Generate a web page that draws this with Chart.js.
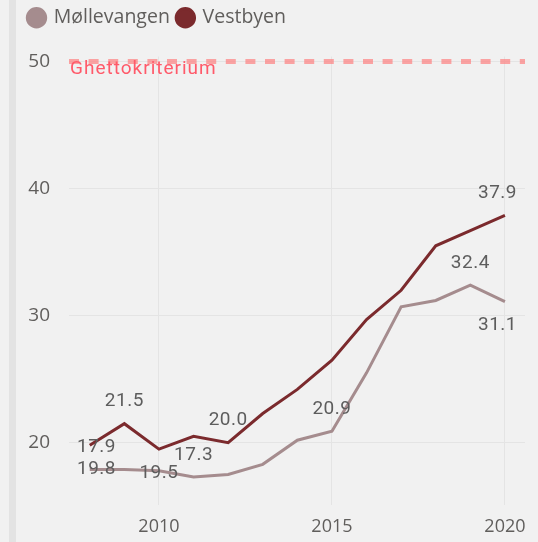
<!DOCTYPE html>
<html>
<head>
<meta charset="utf-8">
<script src="https://cdn.jsdelivr.net/npm/chart.js@4/dist/chart.umd.min.js"></script>
<style>
  html, body { margin: 0; padding: 0; background: #f1f1f1; }
  #wrap { width: 538px; height: 542px; position: relative; }
</style>
</head>
<body>
<div id="wrap"><canvas id="chart"></canvas></div>
<script>
// data
const years = [2008, 2009, 2010, 2011, 2012, 2013, 2014, 2015, 2016, 2017, 2018, 2019, 2020];
const mollevangen = [17.9, 17.9, 17.8, 17.3, 17.5, 18.3, 20.2, 20.9, 25.5, 30.7, 31.2, 32.4, 31.1];
const vestbyen    = [19.8, 21.5, 19.5, 20.5, 20.0, 22.3, 24.2, 26.5, 29.7, 32.0, 35.5, 36.7, 37.9];
// which points carry a value label, and on which side
const mollLabels = { 0: "above", 3: "above", 7: "above", 11: "above", 12: "below" };
const vestLabels = { 0: "below", 1: "above", 2: "below", 4: "above", 12: "above" };
const xTicks = [2010, 2015, 2020];
const yTicks = [20, 30, 40, 50];
const threshold = 50;
const thresholdLabel = "Ghettokriterium";

const textGrey = "#605e5c";

const bgPlugin = {
  id: "bg",
  beforeInit(chart) {
    // push the plot down below the legend
    const lg = chart.legend;
    if (lg) {
      const fit = lg.fit;
      lg.fit = function () { fit.call(this); this.height += 19; };
    }
  },
  beforeDraw(chart) {
    const c = chart.ctx;
    c.save();
    c.fillStyle = "#f1f1f1";
    c.fillRect(0, 0, chart.width, chart.height);
    c.fillStyle = "#e3e3e3";
    c.fillRect(9, 0, 7, chart.height);
    c.restore();
  }
};

const thresholdPlugin = {
  id: "threshold",
  beforeDatasetsDraw(chart) {
    const c = chart.ctx, a = chart.chartArea;
    const y = chart.scales.y.getPixelForValue(threshold);
    c.save();
    c.strokeStyle = "rgba(255,120,120,0.65)";
    c.lineWidth = 5;
    c.setLineDash([10, 9.6]);
    c.beginPath();
    c.moveTo(a.left, y);
    c.lineTo(a.right, y);
    c.stroke();
    c.setLineDash([]);
    c.fillStyle = "#ff5a6a";
    c.font = "19px Roboto";
    c.letterSpacing = "1px";
    c.textBaseline = "middle";
    c.textAlign = "left";
    c.fillText(thresholdLabel, a.left + 1, y + 8);
    c.restore();
  }
};

const valueLabels = {
  id: "valueLabels",
  afterDatasetsDraw(chart) {
    const c = chart.ctx, a = chart.chartArea;
    const sets = [mollLabels, vestLabels];
    c.save();
    c.font = "19px Roboto";
    c.letterSpacing = "0.5px";
    c.fillStyle = "#5d5d5d";
    c.textAlign = "center";
    c.textBaseline = "middle";
    chart.data.datasets.forEach((ds, di) => {
      const meta = chart.getDatasetMeta(di);
      Object.entries(sets[di]).forEach(([i, side]) => {
        const pt = meta.data[i];
        const txt = ds.data[i].y.toFixed(1);
        const w = c.measureText(txt).width;
        let x = pt.x;
        x = Math.max(x, a.left + 8 + w / 2);
        x = Math.min(x, a.right - 8 - w / 2);
        const y = side === "above" ? pt.y - 22 : pt.y + 24;
        c.fillText(txt, x, y);
      });
    });
    c.restore();
  }
};

new Chart(document.getElementById("chart"), {
  type: "line",
  data: {
    datasets: [
      {
        label: "Møllevangen",
        data: years.map((y, i) => ({ x: y, y: mollevangen[i] })),
        borderColor: "#a58c8e",
        backgroundColor: "#a58c8e",
        borderWidth: 3,
        pointRadius: 0,
        tension: 0
      },
      {
        label: "Vestbyen",
        data: years.map((y, i) => ({ x: y, y: vestbyen[i] })),
        borderColor: "#7b2a2d",
        backgroundColor: "#7b2a2d",
        borderWidth: 3,
        pointRadius: 0,
        tension: 0
      }
    ]
  },
  options: {
    responsive: true,
    maintainAspectRatio: false,
    animation: false,
    layout: { padding: { left: 21, right: 13, top: 0, bottom: 0 } },
    plugins: {
      legend: {
        position: "top",
        align: "start",
        labels: {
          usePointStyle: true,
          pointStyle: "circle",
          boxWidth: 15,
          boxHeight: 13,
          padding: 8,
          color: textGrey,
          font: { family: "'Open Sans'", size: 19.5 }
        }
      },
      tooltip: { enabled: false }
    },
    scales: {
      x: {
        type: "linear",
        min: 2007.4,
        max: 2020.58,
        afterBuildTicks(s) { s.ticks = xTicks.map(v => ({ value: v })); },
        afterFit(s) { s.height = 37; },
        grid: { color: "#e4e4e4", drawTicks: false },
        border: { display: false },
        ticks: {
          padding: 11,
          color: textGrey,
          font: { family: "'Open Sans'", size: 18 },
          callback: v => String(v)
        }
      },
      y: {
        min: 15.1,
        max: 50.4,
        afterBuildTicks(s) { s.ticks = yTicks.map(v => ({ value: v })); },
        afterFit(s) { s.width = 48; },
        grid: { color: "#e4e4e4", drawTicks: false },
        border: { display: false },
        ticks: {
          padding: 19,
          color: textGrey,
          font: { family: "'Open Sans'", size: 19 }
        }
      }
    }
  },
  plugins: [bgPlugin, thresholdPlugin, valueLabels]
});
</script>
</body>
</html>
